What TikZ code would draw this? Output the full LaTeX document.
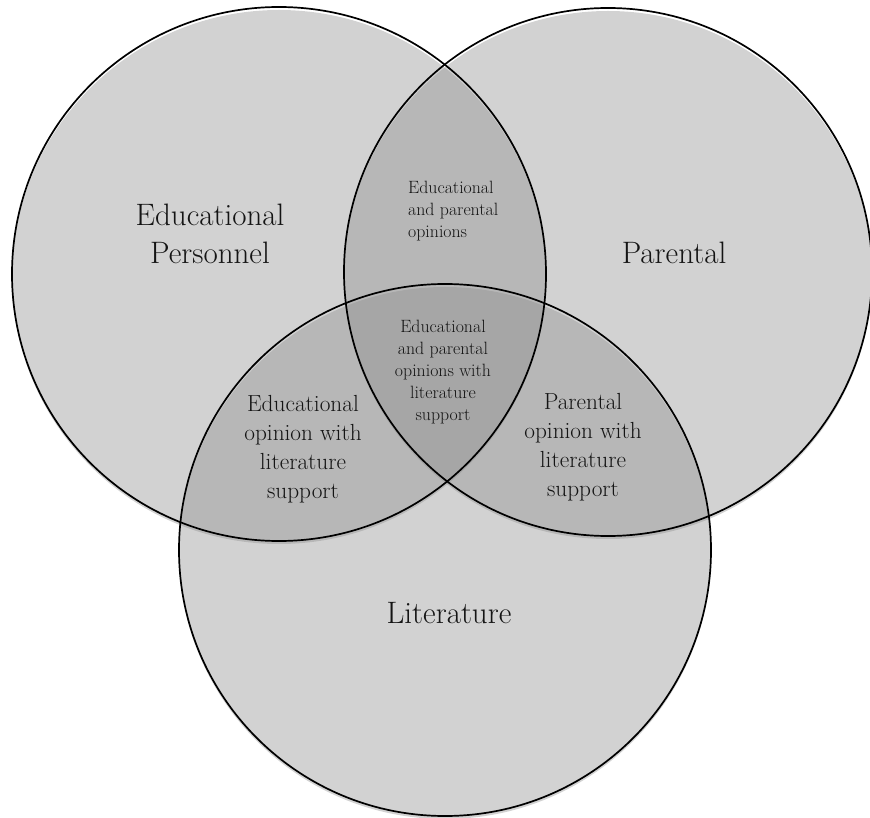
\documentclass[tikz,border=0pt]{standalone}
\usepackage{tikz}
\definecolor{zonegray}{gray}{0.553}
\definecolor{inkgray}{gray}{0.08}
\tikzset{zone/.style = {fill = zonegray, fill opacity = 0.39}}
\tikzset{rim/.style = {draw = black, line width = 1.7pt}}
\tikzset{bigtxt/.style = {text = inkgray, align = center, inner sep = 0,
                          font = \fontsize{31}{38}\selectfont}}
\tikzset{midtxt/.style = {text = inkgray, align = center, inner sep = 0,
                          font = \fontsize{23.3}{29}\selectfont}}
\tikzset{smalltxt/.style = {text = inkgray, inner sep = 0,
                            font = \fontsize{17.8}{22}\selectfont}}
\begin{document}
\begin{tikzpicture}[x=1pt, y=-1pt]
    \useasboundingbox (0, 0) rectangle (870, 818);
    \fill [white] (0, 0) rectangle (870, 818);

    \foreach \cx/\cy/\r in {279/274/267, 608/272/264, 445/550/266} {
      \fill [zone] (\cx, \cy + 3) circle [radius = \r pt];
    }
    \foreach \cx/\cy/\r in {279/274/267, 608/272/264, 445/550/266} {
      \draw [rim] (\cx, \cy) circle [radius = \r pt];
    }

    \node [bigtxt] (edu) at (210, 234) {Educational\\Personnel};
    \node [bigtxt] (par) at (674, 253) {Parental};
    \node [bigtxt] (lit) at (449, 613) {Literature};

    \node [smalltxt, align = left, anchor = west] (edupar) at (408, 211)
      {Educational\\and parental\\opinions};
    \node [smalltxt, align = center] (all) at (443, 372)
      {Educational\\and parental\\opinions with\\literature\\support};

    \node [midtxt] (edulit) at (303, 449) {Educational\\opinion with\\literature\\support};
    \node [midtxt] (parlit) at (583, 447) {Parental\\opinion with\\literature\\support};
  \end{tikzpicture}
\end{document}
